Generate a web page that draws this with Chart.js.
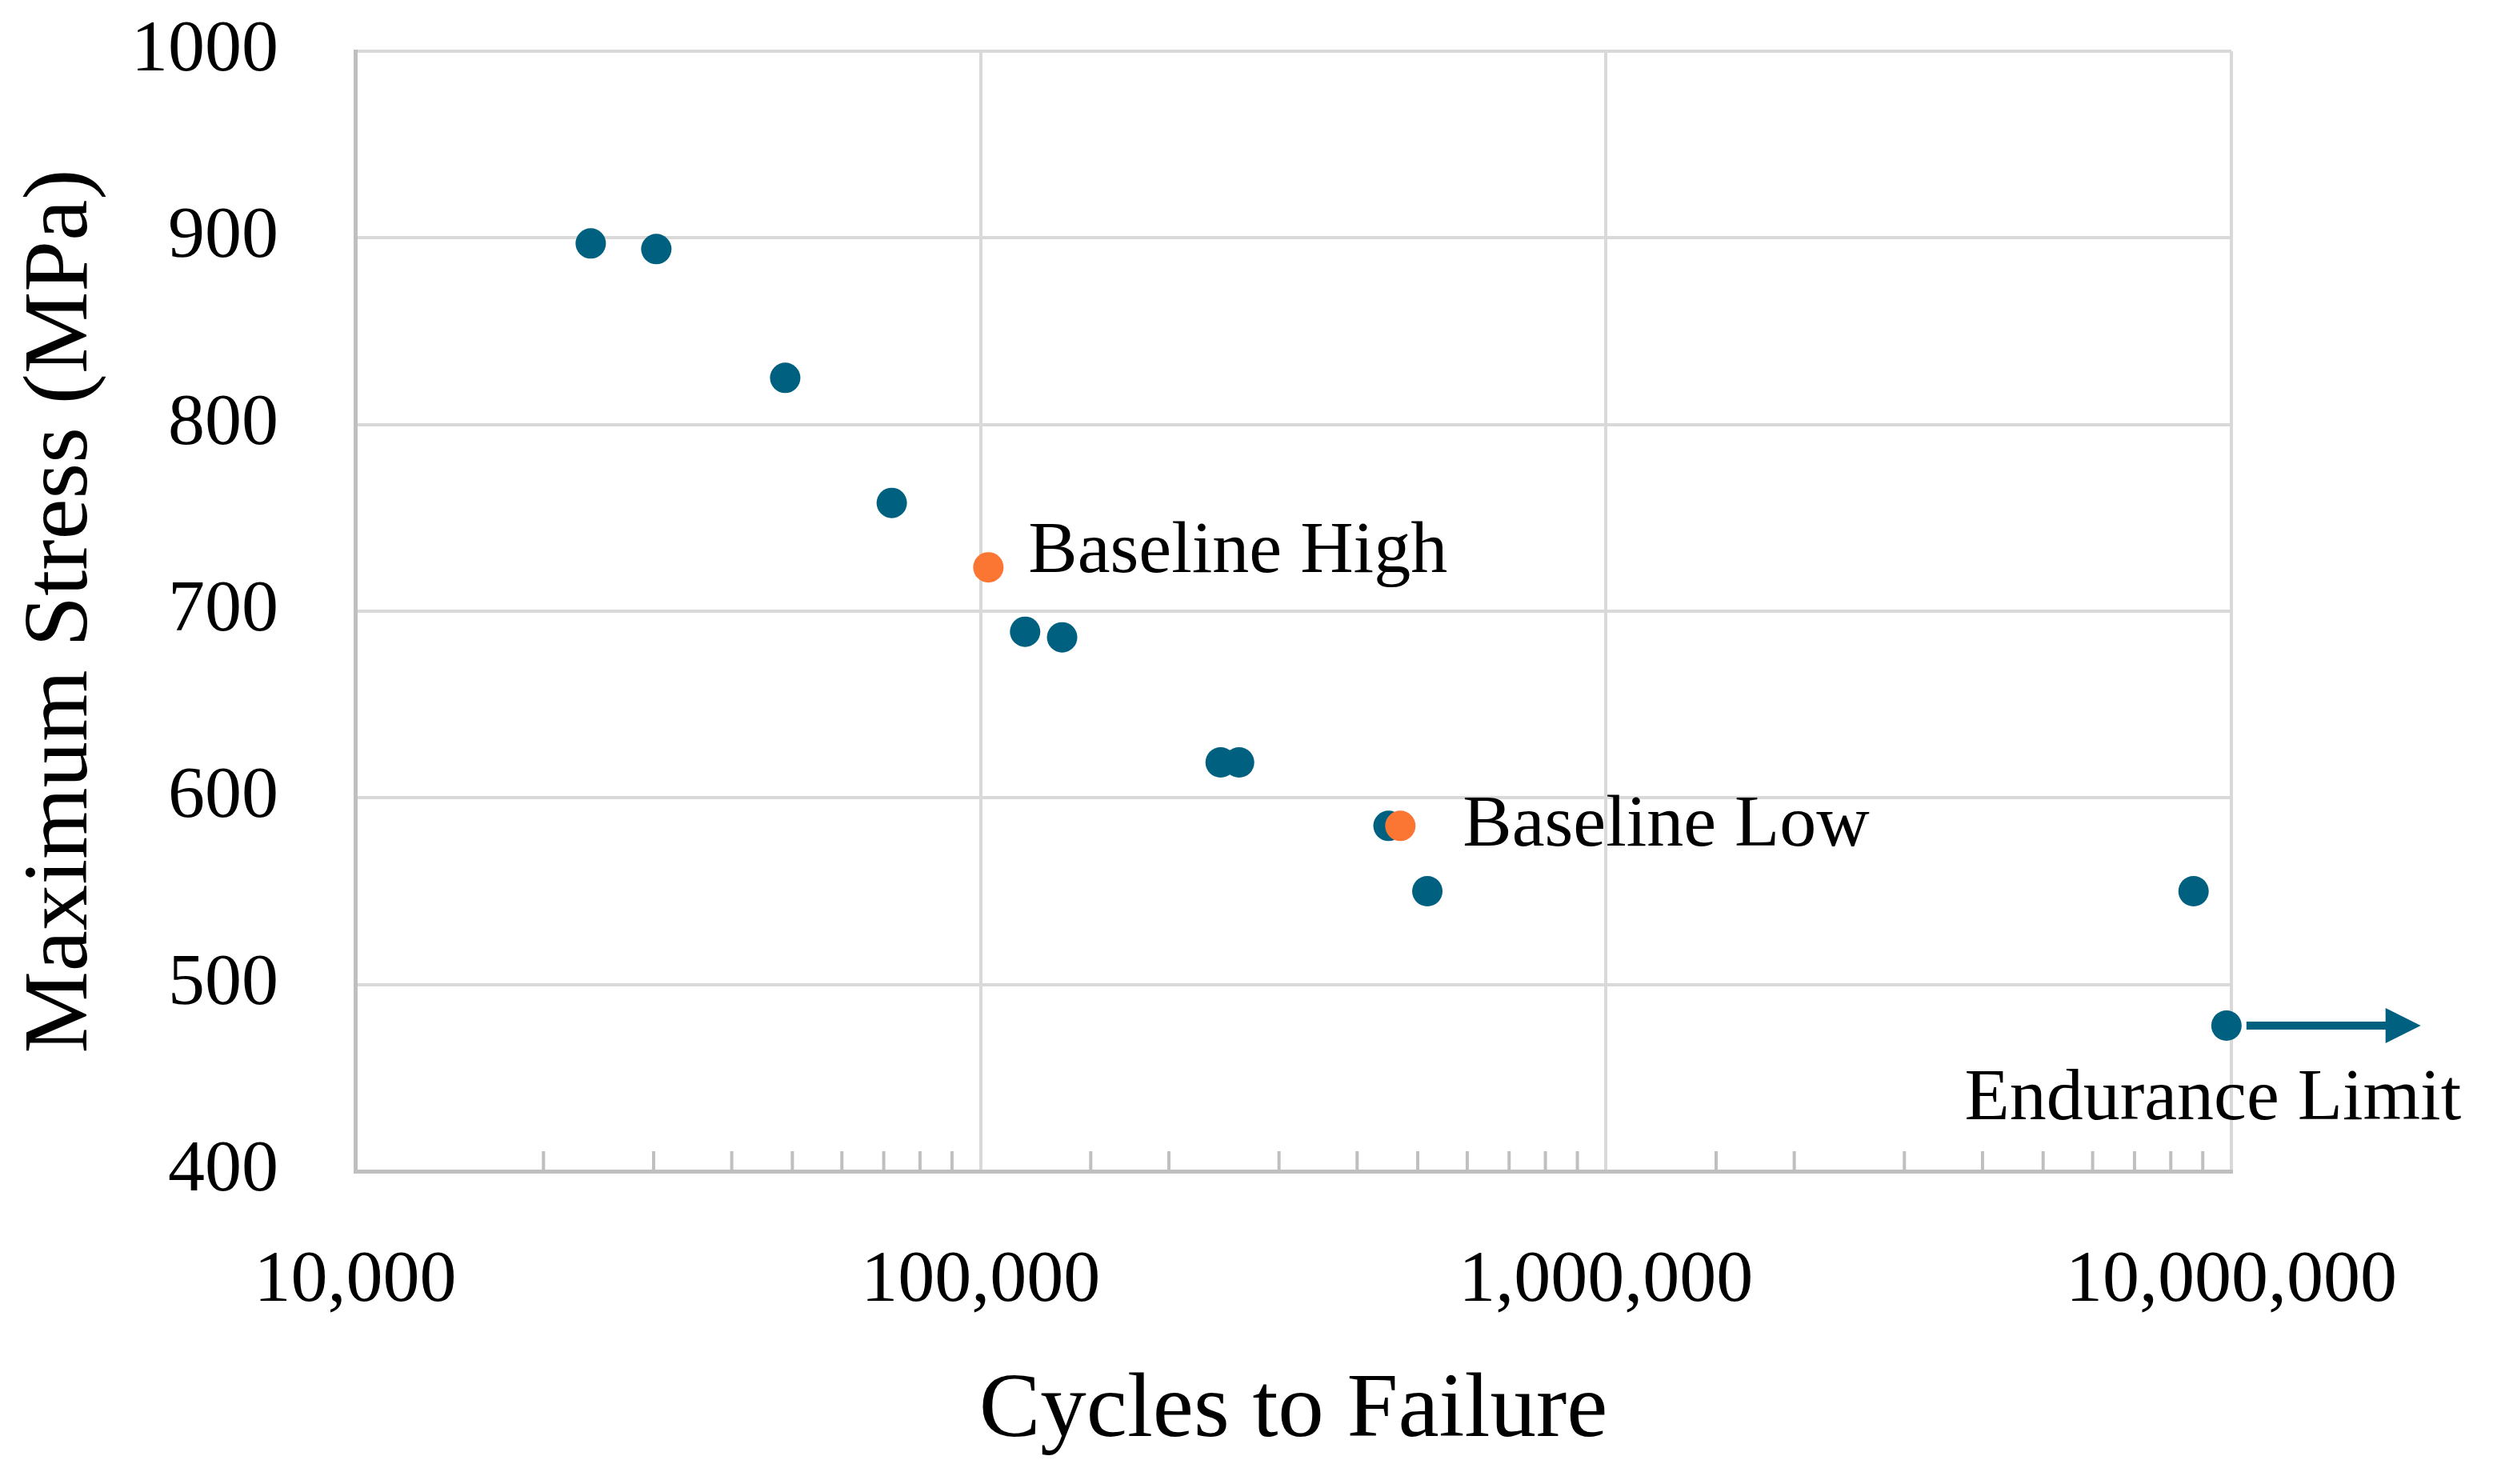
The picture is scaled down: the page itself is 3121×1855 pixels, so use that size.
<!DOCTYPE html>
<html>
<head>
<meta charset="utf-8">
<script src="https://cdn.jsdelivr.net/npm/chart.js@4/dist/chart.umd.min.js"></script>
<style>
  html, body { margin: 0; padding: 0; background: #fff; }
  #wrap { width: 3121px; height: 1855px; }
</style>
</head>
<body>
<div id="wrap"><canvas id="sn-chart"></canvas></div>
<script>
// S-N data
let failCycles = [23800, 30300, 48700, 72100, 117800, 135000, 242000, 259000, 449000, 518000, 8700000, 9820000];
let failStress = [897, 894, 825, 758, 689, 686, 619, 619, 585, 550, 550, 478];
let baseCycles = [102900, 469000];
let baseStress = [723.5, 585];
let baseNames = ["Baseline High", "Baseline Low"];
let runoutCycles = [10570000, 18600000];
let runoutStress = [478, 478];
let runoutName = "Endurance Limit";
let stressTicks = [400, 500, 600, 700, 800, 900, 1000];

const teal = "#00607f";
const orange = "#fb7533";
const serif = "'Liberation Serif', 'DejaVu Serif', serif";

const toPts = (xs, ys) => xs.map((x, i) => ({x: x, y: ys[i]}));
const isDecade = v => Math.abs(Math.log10(v) - Math.round(Math.log10(v))) < 1e-9;
const noPad = s => { s.paddingTop = 0; s.paddingBottom = 0; s.paddingLeft = 0; s.paddingRight = 0; };

// little tick marks inside the plot, arrow head and the text labels
const extras = {
  id: "extras",
  beforeDatasetsDraw(chart) {
    const ctx = chart.ctx, xs = chart.scales.x, area = chart.chartArea;
    ctx.save();
    ctx.strokeStyle = "#bfbfbf";
    ctx.lineWidth = 4;
    xs.ticks.forEach(t => {
      if (isDecade(t.value)) return;
      const px = xs.getPixelForValue(t.value);
      ctx.beginPath();
      ctx.moveTo(px, area.bottom);
      ctx.lineTo(px, area.bottom - 25);
      ctx.stroke();
    });
    ctx.restore();
  },
  afterDatasetsDraw(chart) {
    const ctx = chart.ctx, xs = chart.scales.x, ys = chart.scales.y;
    ctx.save();
    // arrow head at the end of the runout line
    const n = runoutCycles.length - 1;
    const ax = xs.getPixelForValue(runoutCycles[n]), ay = ys.getPixelForValue(runoutStress[n]);
    ctx.fillStyle = teal;
    ctx.beginPath();
    ctx.moveTo(ax + 26, ay);
    ctx.lineTo(ax - 18, ay - 22);
    ctx.lineTo(ax - 18, ay + 22);
    ctx.closePath();
    ctx.fill();

    ctx.fillStyle = "#000";
    ctx.font = "92px " + serif;
    ctx.textBaseline = "alphabetic";
    ctx.textAlign = "left";
    let hx = xs.getPixelForValue(baseCycles[0]), hy = ys.getPixelForValue(baseStress[0]);
    ctx.fillText(baseNames[0], hx + 50, hy + 6);
    let lx = xs.getPixelForValue(baseCycles[1]), ly = ys.getPixelForValue(baseStress[1]);
    ctx.fillText(baseNames[1], lx + 78, ly + 25);
    let ex = xs.getPixelForValue(failCycles[failCycles.length - 1]);
    let ey = ys.getPixelForValue(failStress[failStress.length - 1]);
    ctx.textAlign = "center";
    ctx.fillText(runoutName, ex - 17, ey + 117);
    ctx.restore();
  }
};

new Chart(document.getElementById("sn-chart"), {
  type: "scatter",
  data: {
    datasets: [
      {
        label: "Baseline",
        data: toPts(baseCycles, baseStress),
        backgroundColor: orange,
        borderColor: orange,
        pointRadius: 19,
        pointBorderWidth: 0,
        clip: false
      },
      {
        label: "Specimens",
        data: toPts(failCycles, failStress),
        backgroundColor: teal,
        borderColor: teal,
        pointRadius: 19,
        pointBorderWidth: 0,
        clip: false
      },
      {
        type: "line",
        label: "Runout",
        data: toPts(runoutCycles, runoutStress),
        borderColor: teal,
        backgroundColor: teal,
        borderWidth: 10,
        pointRadius: 0,
        clip: false
      }
    ]
  },
  options: {
    responsive: true,
    maintainAspectRatio: false,
    animation: false,
    events: [],
    layout: { padding: { top: 64, right: 332, left: 0, bottom: 0 } },
    plugins: { legend: { display: false }, tooltip: { enabled: false } },
    scales: {
      x: {
        type: "logarithmic",
        min: 10000,
        max: 10000000,
        afterFit: s => { s.height = 391; noPad(s); },
        grid: {
          color: c => (c.tick && isDecade(c.tick.value)) ? "#d9d9d9" : "rgba(0,0,0,0)",
          lineWidth: 4,
          drawTicks: false
        },
        border: { display: true, color: "#bfbfbf", width: 5 },
        ticks: {
          autoSkip: false,
          maxRotation: 0,
          padding: 83,
          color: "#000",
          font: { family: serif, size: 92 },
          callback: v => isDecade(v) ? Number(v).toLocaleString("en-US") : ""
        },
        title: {
          display: true,
          text: "Cycles to Failure",
          color: "#000",
          font: { family: serif, size: 115 },
          padding: { top: 0, bottom: 21 }
        }
      },
      y: {
        min: 400,
        max: 1000,
        afterFit: s => { s.width = 444; noPad(s); },
        afterBuildTicks: s => { s.ticks = stressTicks.map(v => ({value: v})); },
        grid: { color: "#d9d9d9", lineWidth: 4, drawTicks: false },
        border: { display: true, color: "#bfbfbf", width: 5 },
        ticks: {
          padding: 96,
          color: "#000",
          font: { family: serif, size: 92 },
          callback: v => String(v)
        },
        title: {
          display: true,
          text: "Maximum Stress (MPa)",
          color: "#000",
          font: { family: serif, size: 115 },
          padding: { top: 9, bottom: 0 }
        }
      }
    }
  },
  plugins: [extras]
});
</script>
</body>
</html>
